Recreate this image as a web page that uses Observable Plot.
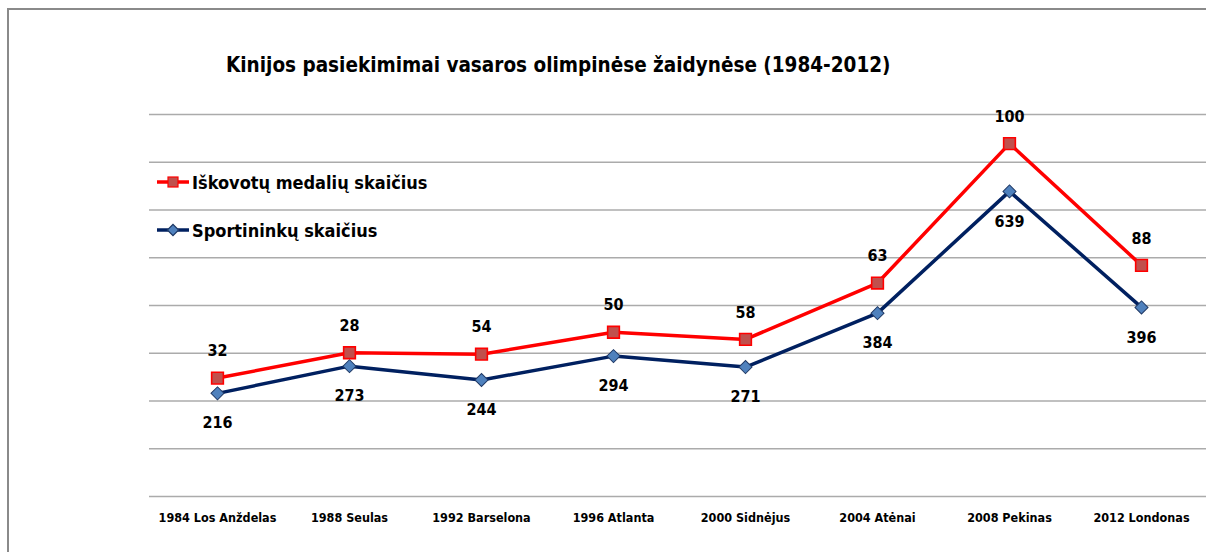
<!DOCTYPE html>
<html>
<head>
<meta charset="utf-8">
<script src="https://cdn.jsdelivr.net/npm/d3@7"></script>
<script src="https://cdn.jsdelivr.net/npm/@observablehq/plot@0.6"></script>
<style>
  html, body { margin: 0; padding: 0; background: #fff; overflow: hidden; }
  #wrap { position: relative; width: 1206px; height: 552px; overflow: hidden;
    font-family: "DejaVu Sans Condensed", "DejaVu Sans", sans-serif; }
  #frame { position: absolute; left: 7px; top: 8px; width: 1300px; height: 600px;
    border-left: 2px solid #8a8a8a; border-top: 2px solid #8a8a8a; box-sizing: border-box; }
  #title { position: absolute; left: 226px; top: 52px; font-size: 20.5px; line-height: 26px; font-weight: bold; color: #000; white-space: nowrap; }
  #chart { position: absolute; left: 0; top: 0; }
  .leg { position: absolute; left: 156px; display: flex; align-items: center; font-size: 18px; font-weight: bold; white-space: nowrap; }
  .leg svg { margin-right: 3px; }
</style>
</head>
<body>
<div id="wrap">
  <div id="frame"></div>
  <div id="chart"></div>
  <div id="title"></div>
  <div id="legend"></div>
</div>
<script>
const titleText = "Kinijos pasiekimimai vasaros olimpinėse žaidynėse (1984-2012)";
const games = ["1984 Los Anždelas", "1988 Seulas", "1992 Barselona", "1996 Atlanta", "2000 Sidnėjus", "2004 Atėnai", "2008 Pekinas", "2012 Londonas"];
const athletes = [216, 273, 244, 294, 271, 384, 639, 396];
const medals = [32, 28, 54, 50, 58, 63, 100, 88];
const seriesNames = ["Iškovotų medalių skaičius", "Sportininkų skaičius"];
const yTicks = [0, 100, 200, 300, 400, 500, 600, 700, 800];

const redLine = "#ff0000", redFill = "#c0504d";
const blueLine = "#002060", blueFill = "#4f81bd", blueStroke = "#1f3864";

// Stacked line chart: medal series drawn on top of the athletes series
const athleteData = games.map((g, i) => ({game: g, value: athletes[i], label: athletes[i]}));
const medalData = games.map((g, i) => ({game: g, value: athletes[i] + medals[i], label: medals[i]}));

document.getElementById("title").textContent = titleText;

const font = '"DejaVu Sans Condensed", "DejaVu Sans", sans-serif';

const chart = Plot.plot({
  width: 1206,
  height: 552,
  marginLeft: 149,
  marginRight: 0,
  marginTop: 114,
  marginBottom: 56,
  style: {fontFamily: font, background: "transparent", overflow: "visible"},
  x: {type: "point", domain: games, range: [214, 1144], padding: 0},
  y: {domain: [0, 800]},
  marks: [
    Plot.gridY(yTicks, {stroke: "#ababab", strokeOpacity: 1, strokeWidth: 1.3}),
    Plot.axisX({tickSize: 0, tickPadding: 17, fontSize: 12.5, fontWeight: "bold", fill: "#000", label: null}),
    Plot.axisY({ticks: [], label: null, tickSize: 0}),
    Plot.line(athleteData, {x: "game", y: "value", stroke: blueLine, strokeWidth: 3.5}),
    Plot.line(medalData, {x: "game", y: "value", stroke: redLine, strokeWidth: 3.5}),
    Plot.dot(athleteData, {x: "game", y: "value", symbol: "square", rotate: 45, r: 5.2, fill: blueFill, stroke: blueStroke, strokeWidth: 1}),
    Plot.dot(medalData, {x: "game", y: "value", symbol: "square", r: 6.6, fill: redFill, stroke: redLine, strokeWidth: 1.6}),
    Plot.text(athleteData, {x: "game", y: "value", text: "label", dy: 30, fontSize: 16, fontWeight: "bold", fill: "#000"}),
    Plot.text(medalData, {x: "game", y: "value", text: "label", dy: -27, fontSize: 16, fontWeight: "bold", fill: "#000"})
  ]
});
document.getElementById("chart").appendChild(chart);

// Legend
const legend = document.getElementById("legend");
const legItems = [
  {name: seriesNames[0], top: 182, line: redLine, fill: redFill, stroke: redLine, shape: "square"},
  {name: seriesNames[1], top: 230, line: blueLine, fill: blueFill, stroke: blueStroke, shape: "diamond"}
];
legItems.forEach(it => {
  const div = document.createElement("div");
  div.className = "leg";
  div.style.top = (it.top - 14) + "px";
  div.style.height = "28px";
  const ns = "http://www.w3.org/2000/svg";
  const svg = document.createElementNS(ns, "svg");
  svg.setAttribute("width", 33); svg.setAttribute("height", 28);
  const ln = document.createElementNS(ns, "line");
  ln.setAttribute("x1", 1); ln.setAttribute("x2", 33); ln.setAttribute("y1", 14); ln.setAttribute("y2", 14);
  ln.setAttribute("stroke", it.line); ln.setAttribute("stroke-width", 3.5);
  svg.appendChild(ln);
  const mk = document.createElementNS(ns, "rect");
  const s = it.shape === "square" ? 10 : 8;
  mk.setAttribute("x", 17 - s / 2); mk.setAttribute("y", 14 - s / 2);
  mk.setAttribute("width", s); mk.setAttribute("height", s);
  mk.setAttribute("fill", it.fill); mk.setAttribute("stroke", it.stroke); mk.setAttribute("stroke-width", 1.2);
  if (it.shape === "diamond") mk.setAttribute("transform", "rotate(45 17 14)");
  svg.appendChild(mk);
  div.appendChild(svg);
  const sp = document.createElement("span");
  sp.textContent = it.name;
  div.appendChild(sp);
  legend.appendChild(div);
});
</script>
</body>
</html>
